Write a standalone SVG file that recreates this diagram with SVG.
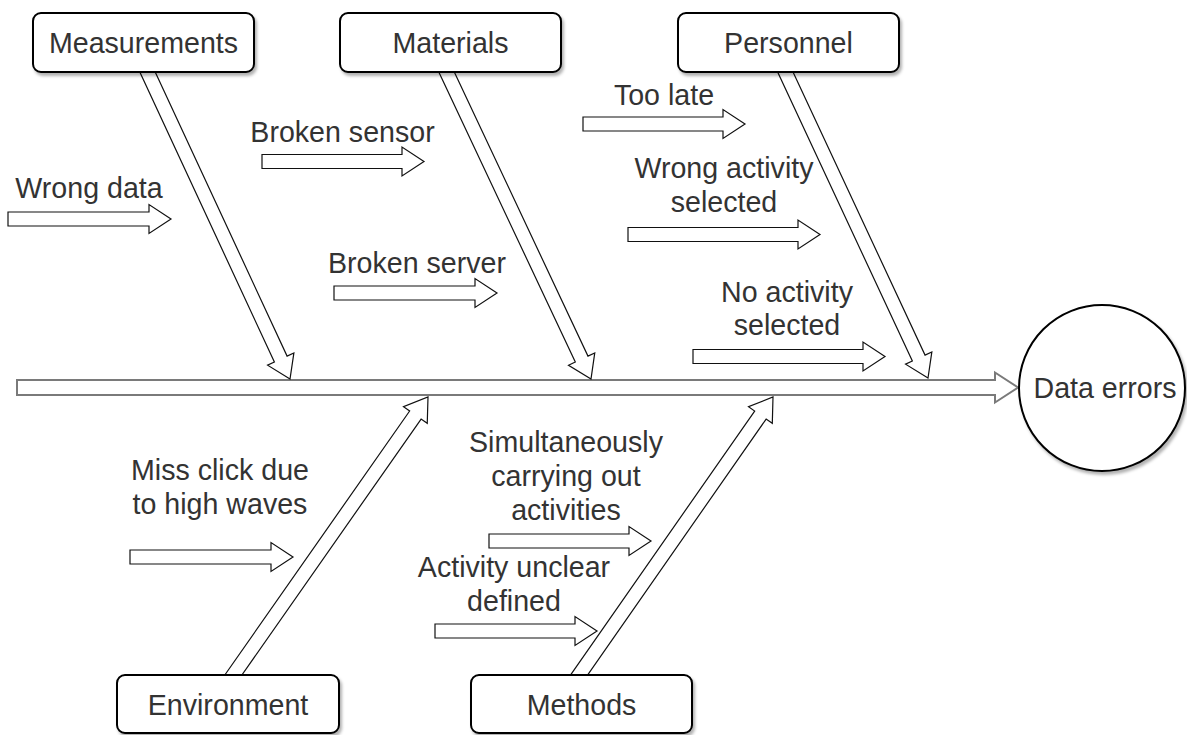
<svg xmlns="http://www.w3.org/2000/svg" width="1187" height="735" viewBox="0 0 1187 735">
<style>
text{font-family:"Liberation Sans",Arial,sans-serif;font-size:28.6px;fill:#333;text-anchor:middle}
.box{fill:#fff;stroke:#000;stroke-width:2}
.bone{fill:#fff;stroke:#111;stroke-width:1.2;stroke-linejoin:miter}
.small{fill:#fff;stroke:#111;stroke-width:1.2}
.spine{fill:#fff;stroke:#7a7a7a;stroke-width:2}
</style>
<defs>
<filter id="sh" x="-10%" y="-10%" width="130%" height="140%">
<feDropShadow dx="2" dy="3" stdDeviation="1.5" flood-color="#000" flood-opacity="0.3"/>
</filter>
</defs>
<rect width="1187" height="735" fill="#fff"/>
<g id="connectors">
<path class="spine" d="M17,380 L995,380 L995,372.5 L1018,387.5 L995,402.5 L995,395 L17,395 Z"/>
<path class="bone" transform="translate(290,379) rotate(65.1)" d="M-346,-7 L-22,-7 L-22,-14.5 L0,0 L-22,14.5 L-22,7 L-346,7 Z"/>
<path class="bone" transform="translate(591,379) rotate(64.8)" d="M-347,-7 L-22,-7 L-22,-14.5 L0,0 L-22,14.5 L-22,7 L-347,7 Z"/>
<path class="bone" transform="translate(928,378) rotate(65.0)" d="M-346,-7 L-22,-7 L-22,-14.5 L0,0 L-22,14.5 L-22,7 L-346,7 Z"/>
<path class="bone" transform="translate(428,397) rotate(-55.0)" d="M-347,-7 L-22,-7 L-22,-14.5 L0,0 L-22,14.5 L-22,7 L-347,7 Z"/>
<path class="bone" transform="translate(773,397) rotate(-55.1)" d="M-347,-7 L-22,-7 L-22,-14.5 L0,0 L-22,14.5 L-22,7 L-347,7 Z"/>
<path class="small" transform="translate(8,219)" d="M0,-7 L141,-7 L141,-14.5 L163,0 L141,14.5 L141,7 L0,7 Z"/>
<path class="small" transform="translate(262,161.5)" d="M0,-7 L140,-7 L140,-14.5 L162,0 L140,14.5 L140,7 L0,7 Z"/>
<path class="small" transform="translate(334,293)" d="M0,-7 L141,-7 L141,-14.5 L163,0 L141,14.5 L141,7 L0,7 Z"/>
<path class="small" transform="translate(583,124)" d="M0,-7 L140,-7 L140,-14.5 L162,0 L140,14.5 L140,7 L0,7 Z"/>
<path class="small" transform="translate(628,234.5)" d="M0,-7 L170,-7 L170,-14.5 L192,0 L170,14.5 L170,7 L0,7 Z"/>
<path class="small" transform="translate(693,356.5)" d="M0,-7 L170,-7 L170,-14.5 L192,0 L170,14.5 L170,7 L0,7 Z"/>
<path class="small" transform="translate(130,557)" d="M0,-7 L141,-7 L141,-14.5 L163,0 L141,14.5 L141,7 L0,7 Z"/>
<path class="small" transform="translate(489,541)" d="M0,-7 L140,-7 L140,-14.5 L162,0 L140,14.5 L140,7 L0,7 Z"/>
<path class="small" transform="translate(435,631)" d="M0,-7 L140,-7 L140,-14.5 L162,0 L140,14.5 L140,7 L0,7 Z"/>
</g>
<g id="measurements"><rect class="box" filter="url(#sh)" x="33" y="13" width="221" height="59" rx="8"/><text x="143.5" y="53">Measurements</text></g>
<g id="materials"><rect class="box" filter="url(#sh)" x="340" y="13" width="221" height="59" rx="8"/><text x="450.5" y="53">Materials</text></g>
<g id="personnel"><rect class="box" filter="url(#sh)" x="678" y="13" width="221" height="59" rx="8"/><text x="788.5" y="53">Personnel</text></g>
<g id="environment"><rect class="box" filter="url(#sh)" x="117" y="675" width="222" height="58" rx="8"/><text x="228" y="715">Environment</text></g>
<g id="methods"><rect class="box" filter="url(#sh)" x="471" y="675" width="221" height="58" rx="8"/><text x="581.5" y="715">Methods</text></g>
<g id="data-errors"><circle class="box" filter="url(#sh)" cx="1102" cy="388" r="83"/><text x="1105" y="398">Data errors</text></g>
<g id="labels">
<text x="89" y="198">Wrong data</text>
<text x="342.5" y="142">Broken sensor</text>
<text x="417" y="273">Broken server</text>
<text x="664" y="105">Too late</text>
<text x="724" y="178">Wrong activity</text>
<text x="724" y="212">selected</text>
<text x="787" y="302">No activity</text>
<text x="787" y="335">selected</text>
<text x="220" y="480">Miss click due</text>
<text x="220" y="514">to high waves</text>
<text x="566" y="452">Simultaneously</text>
<text x="566" y="486">carrying out</text>
<text x="566" y="520">activities</text>
<text x="514" y="577">Activity unclear</text>
<text x="514" y="611">defined</text>
</g>
</svg>
